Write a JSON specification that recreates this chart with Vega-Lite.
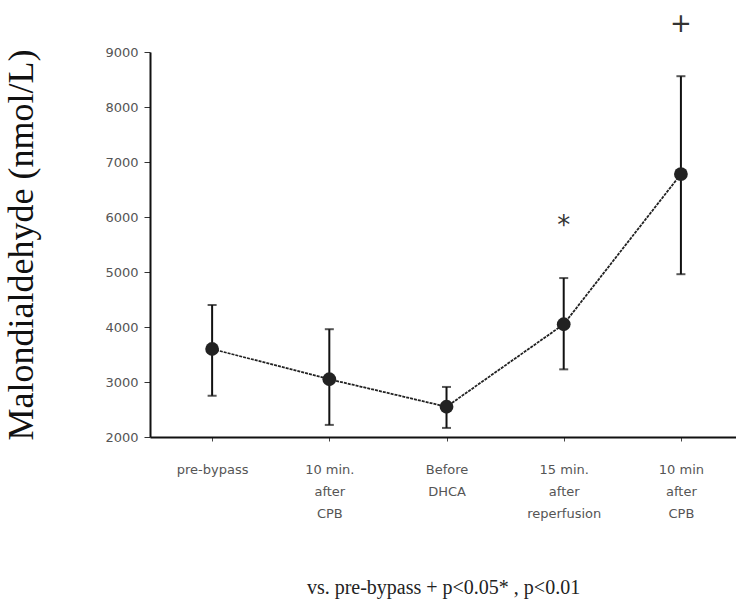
{
  "$schema": "https://vega.github.io/schema/vega-lite/v6.json",
  "autosize": {"type": "none"},
  "width": 586,
  "height": 385,
  "padding": {"left": 150, "top": 52, "right": 0, "bottom": 172},
  "background": "white",
  "config": {"view": {"stroke": null}},
  "data": {
    "values": [
      {"stage": "pre-bypass", "mean": 3600, "lo": 2750, "hi": 4400, "sig": ""},
      {"stage": "10 min.|after|CPB", "mean": 3050, "lo": 2220, "hi": 3960, "sig": ""},
      {"stage": "Before|DHCA", "mean": 2550, "lo": 2165, "hi": 2910, "sig": ""},
      {"stage": "15 min.|after|reperfusion", "mean": 4050, "lo": 3230, "hi": 4890, "sig": "*"},
      {"stage": "10 min|after|CPB", "mean": 6780, "lo": 4960, "hi": 8560, "sig": "+"}
    ]
  },
  "encoding": {
    "x": {
      "field": "stage",
      "type": "ordinal",
      "sort": null,
      "scale": {"type": "point", "paddingOuter": 0.44, "align": 0.53},
      "axis": {
        "title": "vs. pre-bypass + p<0.05* , p<0.01",
        "titleFont": "Liberation Serif",
        "titleFontSize": 20,
        "titleFontWeight": "normal",
        "titleColor": "#222",
        "titlePadding": 57,
        "labelExpr": "split(datum.label, '|')",
        "labelAngle": 0,
        "labelFont": "DejaVu Sans",
        "labelFontSize": 13,
        "labelColor": "#555",
        "labelPadding": 22,
        "labelLineHeight": 22,
        "labelBaseline": "top",
        "domainColor": "#111",
        "domainWidth": 2,
        "tickColor": "#444",
        "tickSize": 4,
        "grid": false
      }
    }
  },
  "layer": [
    {
      "mark": {"type": "rule", "color": "#111", "strokeWidth": 2},
      "encoding": {
        "y": {
          "field": "lo",
          "type": "quantitative",
          "scale": {"domain": [2000, 9000], "nice": false},
          "axis": {
            "title": "Malondialdehyde (nmol/L)",
            "titleFont": "Liberation Serif",
            "titleFontSize": 36,
            "titleFontWeight": "normal",
            "titleColor": "#111",
            "titlePadding": 64,
            "values": [2000, 2500, 3000, 3500, 4000, 4500, 5000, 5500, 6000, 6500, 7000, 7500, 8000, 8500, 9000],
            "labelExpr": "datum.value % 1000 === 0 ? datum.label : ''",
            "format": "d",
            "labelFont": "DejaVu Sans",
            "labelFontSize": 13,
            "labelColor": "#555",
            "labelPadding": 6,
            "domainColor": "#111",
            "domainWidth": 2,
            "tickColor": "#333",
            "tickSize": {"condition": {"test": "datum.value % 1000 === 0", "value": 6}, "value": 3},
            "grid": false
          }
        },
        "y2": {"field": "hi"}
      }
    },
    {
      "mark": {"type": "tick", "color": "#111", "thickness": 2, "size": 9},
      "encoding": {"y": {"field": "hi", "type": "quantitative"}}
    },
    {
      "mark": {"type": "tick", "color": "#111", "thickness": 2, "size": 9},
      "encoding": {"y": {"field": "lo", "type": "quantitative"}}
    },
    {
      "mark": {"type": "line", "color": "#222", "strokeWidth": 1.8, "strokeDash": [3, 1]},
      "encoding": {"y": {"field": "mean", "type": "quantitative"}}
    },
    {
      "mark": {"type": "point", "filled": true, "color": "#222", "size": 190, "opacity": 1},
      "encoding": {"y": {"field": "mean", "type": "quantitative"}}
    },
    {
      "mark": {"type": "text", "font": "DejaVu Sans", "fontSize": 26, "color": "#333", "dy": -52, "baseline": "middle", "clip": false},
      "encoding": {
        "y": {"field": "hi", "type": "quantitative"},
        "text": {"field": "sig"}
      }
    }
  ]
}
